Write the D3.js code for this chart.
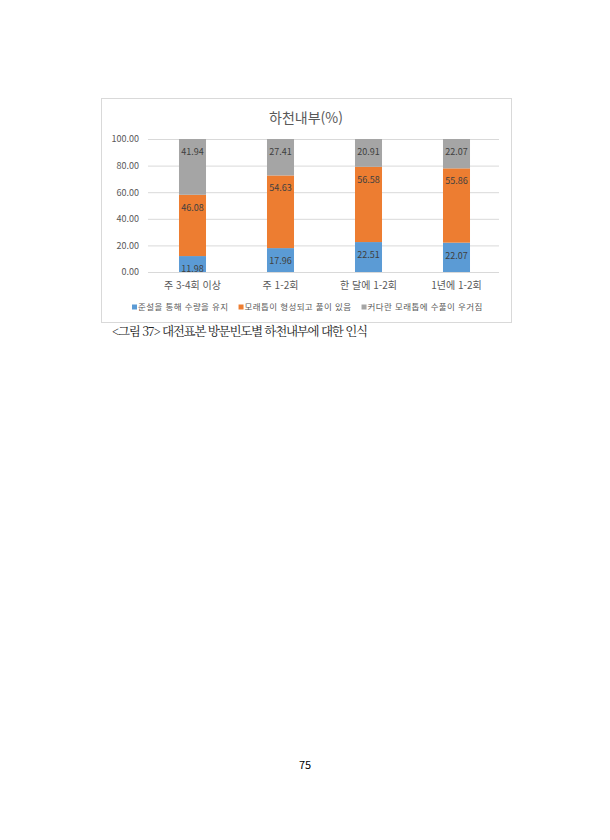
<!DOCTYPE html>
<html lang="ko">
<head>
<meta charset="utf-8">
<title>하천내부(%)</title>
<script src="https://cdn.jsdelivr.net/npm/d3@7"></script>
<style>
  body { margin: 0; background: #fff; }
  svg text { font-family: "Noto Sans CJK KR", "Noto Sans", sans-serif; }
  .axis .domain { display: none; }
  .yaxis line { stroke: #d9d9d9; }
  .yaxis text, .xaxis text { fill: #595959; }
</style>
</head>
<body>
<script>
// data
var categories = ["주 3-4회 이상", "주 1-2회", "한 달에 1-2회", "1년에 1-2회"];
var seriesNames = ["준설을 통해 수량을 유지", "모래톱이 형성되고 풀이 있음", "커다란 모래톱에 수풀이 우거짐"];
var dredged = [11.98, 17.96, 22.51, 22.07];
var sandbarGrass = [46.08, 54.63, 56.58, 55.86];
var bigSandbar = [41.94, 27.41, 20.91, 22.07];
var yTicks = [0, 20, 40, 60, 80, 100];
var colors = ["#5b9bd5", "#ed7d31", "#a5a5a5"];

var w = 610, h = 840;

var svg = d3.select("body").append("svg")
  .attr("width", w)
  .attr("height", h);

// chart frame
svg.append("rect")
  .attr("x", 101.5).attr("y", 98.5)
  .attr("width", 410).attr("height", 224)
  .attr("fill", "#fff")
  .attr("stroke", "#d9d9d9");

svg.append("text")
  .attr("x", 306).attr("y", 123)
  .attr("text-anchor", "middle")
  .attr("font-size", 14)
  .attr("fill", "#595959")
  .text("하천내부(%)");

var xScale = d3.scaleBand()
  .domain(categories)
  .range([148.5, 500.5])
  .paddingInner(0.693)
  .paddingOuter(0.3465);

var yScale = d3.scaleLinear()
  .domain([0, 100])
  .range([272, 139]);

// y axis with gridlines
var yAxis = d3.axisLeft(yScale)
  .tickValues(yTicks)
  .tickFormat(d3.format(".2f"))
  .tickSize(-351)
  .tickPadding(9);

svg.append("g")
  .attr("class", "axis yaxis")
  .attr("transform", "translate(148,0)")
  .call(yAxis)
  .selectAll("text")
  .attr("font-size", 9);

// stacked data
var table = categories.map(function(c, i) {
  return { cat: c, a: dredged[i], b: sandbarGrass[i], c: bigSandbar[i] };
});
var stack = d3.stack().keys(["a", "b", "c"]);
var layers = stack(table);

var groups = svg.selectAll("g.layer")
  .data(layers)
  .enter().append("g")
  .attr("class", "layer")
  .attr("fill", function(d, i) { return colors[i]; });

groups.selectAll("rect")
  .data(function(d) { return d; })
  .enter().append("rect")
  .attr("x", function(d) { return xScale(d.data.cat); })
  .attr("y", function(d) { return yScale(d[1]); })
  .attr("width", xScale.bandwidth())
  .attr("height", function(d) { return yScale(d[0]) - yScale(d[1]); });

// labels, "inside end" like excel
layers.forEach(function(layer) {
  svg.selectAll(null)
    .data(layer)
    .enter().append("text")
    .attr("x", function(d) { return xScale(d.data.cat) + xScale.bandwidth() / 2; })
    .attr("y", function(d) { return yScale(d[1]) + 16; })
    .attr("text-anchor", "middle")
    .attr("font-size", 9)
    .attr("fill", "#404040")
    .text(function(d) { return (d[1] - d[0]).toFixed(2); });
});

// x axis
var xAxis = d3.axisBottom(xScale).tickSize(0).tickPadding(10);
var xg = svg.append("g")
  .attr("class", "axis xaxis")
  .attr("transform", "translate(0,272)")
  .call(xAxis);
xg.selectAll("text").attr("font-size", 10);
svg.append("line")
  .attr("x1", 148).attr("x2", 499)
  .attr("y1", 272.5).attr("y2", 272.5)
  .attr("stroke", "#d9d9d9");

// legend
var legend = svg.append("g").attr("transform", "translate(0,307)");
var lx = 132;
seriesNames.forEach(function(name, i) {
  legend.append("rect")
    .attr("x", lx).attr("y", -2.5)
    .attr("width", 5).attr("height", 5)
    .attr("fill", colors[i]);
  var t = legend.append("text")
    .attr("x", lx + 6).attr("y", 3)
    .attr("font-size", 8.5)
    .attr("letter-spacing", 0.4)
    .attr("fill", "#595959")
    .text(name);
  lx += 6 + t.node().getComputedTextLength() + 10;
});

// caption
svg.append("text")
  .attr("x", 112).attr("y", 336)
  .attr("font-size", 12.5)
  .attr("fill", "#222")
  .attr("textLength", 256)
  .attr("lengthAdjust", "spacing")
  .style("font-family", "'Noto Serif CJK KR', 'Noto Sans CJK KR', serif")
  .text("<그림 37> 대전표본 방문빈도별 하천내부에 대한 인식");

// page number
svg.append("text")
  .attr("x", 305).attr("y", 769)
  .attr("text-anchor", "middle")
  .attr("font-size", 11)
  .attr("fill", "#000")
  .text("75");
</script>
</body>
</html>
